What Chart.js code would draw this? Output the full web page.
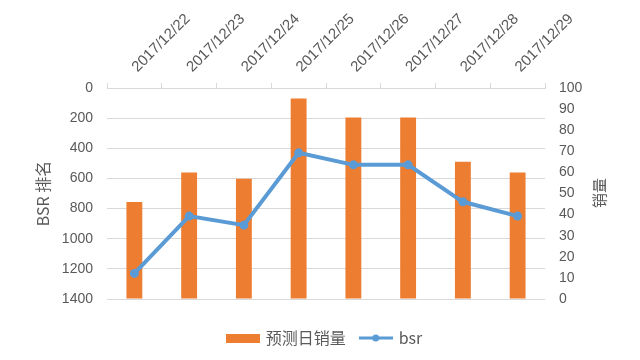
<!DOCTYPE html>
<html>
<head>
<meta charset="utf-8">
<script src="https://cdn.jsdelivr.net/npm/chart.js@4"></script>
<style>
  html, body { margin: 0; padding: 0; background: #fff; }
  #wrap { width: 640px; height: 360px; }
</style>
</head>
<body>
<div id="wrap"><canvas id="chart"></canvas></div>
<script>
const dates = ['2017/12/22', '2017/12/23', '2017/12/24', '2017/12/25', '2017/12/26', '2017/12/27', '2017/12/28', '2017/12/29'];
const sales = [46, 60, 57, 95, 86, 86, 65, 60];          // 预测日销量 (right axis)
const bsr = [1230, 850, 910, 430, 510, 510, 755, 850];   // bsr rank (left axis, reversed)
const rankTicks = [0, 200, 400, 600, 800, 1000, 1200, 1400];
const salesTicks = [0, 10, 20, 30, 40, 50, 60, 70, 80, 90, 100];

const orange = '#ED7D31';
const blue = '#5B9BD5';
const grey = '#595959';
const gridGrey = '#D9D9D9';
const sans = "'Liberation Sans', 'Noto Sans CJK SC', sans-serif";
const cjk = "'Noto Sans CJK SC', sans-serif";

// legend swatches
function swatch(kind) {
    const c = document.createElement('canvas');
    c.width = 34; c.height = 10;
    const g = c.getContext('2d');
    if (kind === 'bar') {
        g.fillStyle = orange;
        g.fillRect(0, 1, 34, 9);
    } else {
        g.strokeStyle = blue;
        g.lineWidth = 3;
        g.beginPath(); g.moveTo(0, 5); g.lineTo(34, 5); g.stroke();
        g.fillStyle = blue;
        g.beginPath(); g.arc(17, 5, 3.5, 0, Math.PI * 2); g.fill();
    }
    return c;
}
const swatches = [swatch('bar'), swatch('line')];

const rightTitle = {
    id: 'rightTitle',
    afterDraw(chart) {
        const c = chart.ctx;
        c.save();
        c.translate(599, 193);
        c.rotate(-Math.PI / 2);
        c.font = '15px ' + cjk;
        c.fillStyle = grey;
        c.textAlign = 'center';
        c.textBaseline = 'middle';
        c.fillText('销量', 0, 0);
        c.restore();
    }
};

new Chart(document.getElementById('chart'), {
    data: {
        labels: dates,
        datasets: [
            {
                type: 'bar',
                label: '预测日销量',
                data: sales,
                yAxisID: 'y1',
                backgroundColor: orange,
                barPercentage: 0.58,
                categoryPercentage: 0.5,
                order: 0
            },
            {
                type: 'line',
                label: 'bsr',
                data: bsr,
                yAxisID: 'y',
                borderColor: blue,
                backgroundColor: blue,
                borderWidth: 4,
                pointRadius: 4.5,
                pointBackgroundColor: blue,
                pointBorderWidth: 0,
                tension: 0,
                order: -1
            }
        ]
    },
    options: {
        responsive: true,
        maintainAspectRatio: false,
        animation: false,
        layout: { padding: { left: 10, right: 0, top: 0, bottom: 4 } },
        plugins: {
            tooltip: { enabled: false },
            legend: {
                position: 'bottom',
                labels: {
                    usePointStyle: true,
                    pointStyleWidth: 30,
                    padding: 15,
                    color: grey,
                    font: { family: cjk, size: 16 },
                    generateLabels: chart => {
                        const items = Chart.defaults.plugins.legend.labels.generateLabels(chart);
                        items.forEach(it => { it.pointStyle = swatches[it.datasetIndex]; });
                        return items.sort((a, b) => a.datasetIndex - b.datasetIndex);
                    }
                }
            }
        },
        scales: {
            x: {
                position: 'top',
                offset: true,
                grid: { drawOnChartArea: false, color: gridGrey, tickLength: 5, offset: true },
                border: { color: gridGrey },
                ticks: { color: grey, font: { family: sans, size: 15 }, minRotation: 45, maxRotation: 45, padding: 7, labelOffset: 13 },
                afterFit: s => { s.height = 88; }
            },
            xb: {
                type: 'category',
                position: 'bottom',
                grid: { display: false },
                border: { display: false },
                ticks: { display: false },
                afterFit: s => { s.height = 16; }
            },
            y: {
                position: 'left',
                reverse: true,
                min: 0,
                max: 1400,
                afterBuildTicks: s => { s.ticks = rankTicks.map(v => ({ value: v })); },
                grid: { color: gridGrey, drawTicks: false },
                border: { display: false },
                ticks: { color: grey, font: { family: sans, size: 14 }, padding: 14, callback: v => String(v) },
                title: { display: true, text: 'BSR 排名', color: grey, padding: { top: 23, bottom: 0 }, font: { family: cjk, size: 16 } },
                afterFit: s => { s.width = 97; }
            },
            y1: {
                position: 'right',
                min: 0,
                max: 100,
                afterBuildTicks: s => { s.ticks = salesTicks.map(v => ({ value: v })); },
                grid: { drawOnChartArea: false, drawTicks: false },
                border: { display: false },
                ticks: { color: grey, font: { family: sans, size: 14 }, padding: 14, callback: v => String(v) },
                afterFit: s => { s.width = 95; }
            }
        }
    },
    plugins: [rightTitle]
});
</script>
</body>
</html>
